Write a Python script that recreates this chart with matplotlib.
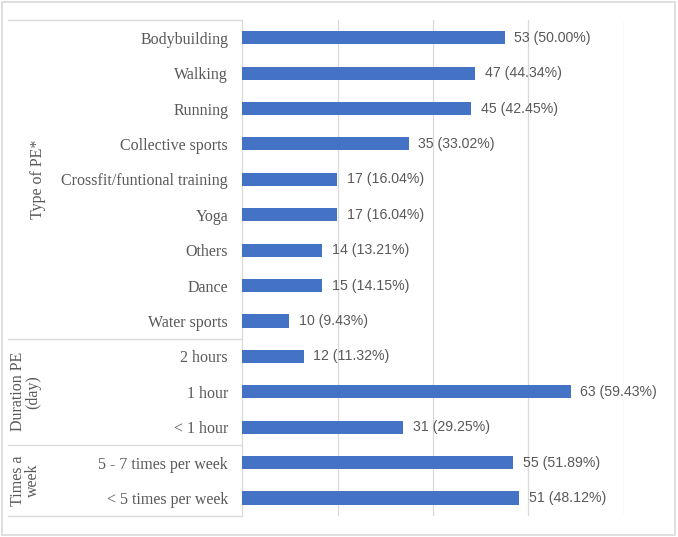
import matplotlib.pyplot as plt
from matplotlib.lines import Line2D
from matplotlib.patches import Rectangle
from matplotlib.transforms import blended_transform_factory

categories = ['Bodybuilding', 'Walking', 'Running', 'Collective sports',
              'Crossfit/funtional training', 'Yoga', 'Others', 'Dance',
              'Water sports', '2 hours', '1 hour', '< 1 hour',
              '5 - 7 times per week', '< 5 times per week']
counts = [53, 47, 45, 35, 17, 17, 14, 15, 10, 12, 63, 31, 55, 51]
pcts = [50.00, 44.34, 42.45, 33.02, 16.04, 16.04, 13.21, 14.15, 9.43,
        11.32, 59.43, 29.25, 51.89, 48.12]
# bar lengths as drawn in the picture (they do not follow the labels exactly)
bar_len = [55.0, 48.8, 48.0, 34.9, 19.9, 19.9, 16.8, 16.8, 9.8,
           12.9, 68.8, 33.8, 56.8, 58.0]
groups = ['Type of PE*', 'Duration PE\n(day)', 'Times a\nweek']
group_rows = [(0, 8), (9, 11), (12, 13)]

W, H = 678, 537
fig = plt.figure(figsize=(W / 100, H / 100), dpi=100)
ax = fig.add_axes([242 / W, 1 - 515.7 / H, (624 - 242) / W, (515.7 - 20) / H])

grey = '#595959'
line_c = '#d9d9d9'
y = list(range(len(categories)))
ax.barh(y, bar_len, height=0.37, color='#4472C4', zorder=3)
for yi, v, c, p in zip(y, bar_len, counts, pcts):
    ax.annotate('%d (%.2f%%)' % (c, p), (v, yi), xytext=(7, 0),
                textcoords='offset points', va='center', ha='left',
                fontsize=10.2, color=grey, family='Liberation Sans',
                annotation_clip=False)

ax.set_xlim(0, 80)
ax.set_ylim(len(categories) - 0.5, -0.5)
ax.set_xticks([20, 40, 60, 80])
ax.set_xticklabels([])
ax.grid(axis='x', color=line_c, lw=0.9, zorder=0)
ax.tick_params(length=0)
ax.tick_params(axis='y', pad=10)
ax.set_yticks(y)
ax.set_yticklabels(categories, family='Liberation Serif', fontsize=11.5, color=grey)
for s in ['top', 'right', 'bottom']:
    ax.spines[s].set_visible(False)
ax.spines['left'].set_color(line_c)
ax.spines['left'].set_linewidth(0.9)

# multi-level category axis: separator lines and group names
tr = blended_transform_factory(fig.transFigure, ax.transData)
for yl in [-0.5, 8.5, 11.5, 13.5]:
    fig.add_artist(Line2D([8 / W, 242 / W], [yl, yl], transform=tr,
                          color=line_c, lw=0.9))
gx = [38, 25.5, 25.5]
for name, (a, b), x in zip(groups, group_rows, gx):
    fig.text(x / W, (a + b) / 2, name, transform=tr, rotation=90,
             ha='center', va='center', family='Liberation Serif',
             fontsize=11.5, color=grey, linespacing=0.95)

# chart border
fig.add_artist(Rectangle((2 / W, 2 / H), 673 / W, 533 / H, transform=fig.transFigure,
                         fill=False, edgecolor=line_c, lw=1.2))

fig.savefig('out.png', dpi=100)
